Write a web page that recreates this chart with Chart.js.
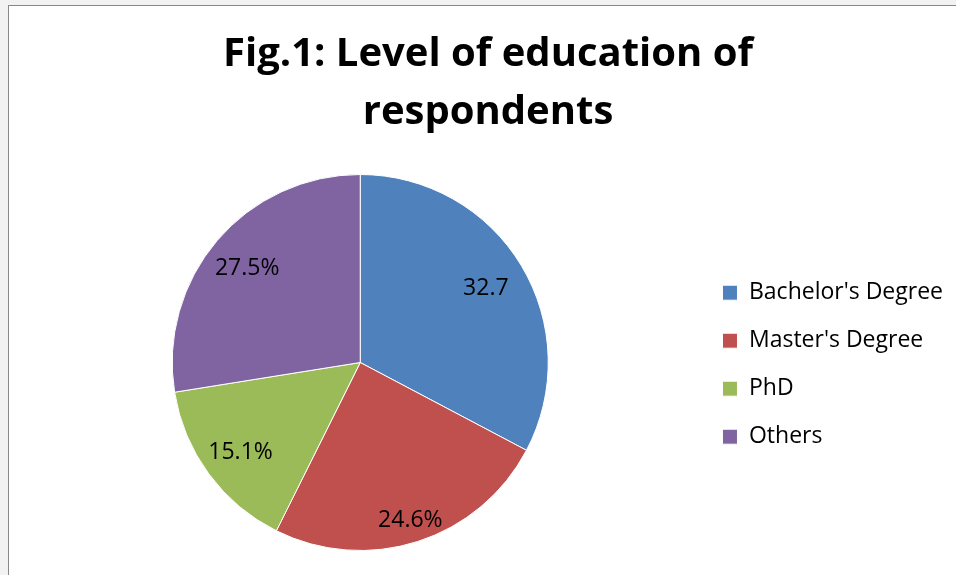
<!DOCTYPE html>
<html>
<head>
<meta charset="utf-8">
<script src="https://cdn.jsdelivr.net/npm/chart.js@4"></script>
<style>
  html, body { margin:0; padding:0; background:#f2f2f2; width:956px; height:575px; overflow:hidden; }
  #frame {
    position:absolute; left:8px; top:5px; width:948px; height:570px;
    background:#fff; border-left:1px solid #888; border-top:1px solid #888;
  }
  #wrap { position:absolute; left:0; top:0; width:947px; height:569px; }
</style>
</head>
<body>
<div id="frame"><div id="wrap"><canvas id="pieChart"></canvas></div></div>
<script>
/* ── data ───────────────────────────────────────── */
const CATEGORIES = ["Bachelor's Degree", "Master's Degree", 'PhD', 'Others'];
const VALUES     = [32.7, 24.6, 15.1, 27.5];
const LABELS     = ['32.7', '24.6%', '15.1%', '27.5%'];
const TITLE      = ['Fig.1: Level of education of', 'respondents'];

const COLORS = ['#4F81BD', '#C0504D', '#9BBB59', '#8064A2'];
const FONT   = '"Open Sans", Carlito, Calibri, sans-serif';
const LABEL_DIST = [0.78, 0.87, 0.79, 0.79];   // fraction of radius

/* ── inline data label plugin ───────────────────── */
const sliceLabels = {
  id: 'sliceLabels',
  afterDatasetsDraw(chart){
    const ctx = chart.ctx;
    const meta = chart.getDatasetMeta(0);
    ctx.save();
    ctx.font = '23px ' + FONT;
    ctx.fillStyle = '#000';
    ctx.textAlign = 'center';
    ctx.textBaseline = 'middle';
    meta.data.forEach((arc, i) => {
      const p = arc.getProps(['x','y','startAngle','endAngle','outerRadius'], true);
      const mid = (p.startAngle + p.endAngle) / 2;
      const d = p.outerRadius * LABEL_DIST[i];
      ctx.fillText(LABELS[i], p.x + Math.cos(mid) * d, p.y + Math.sin(mid) * d + 2);
    });
    ctx.restore();
  }
};

const ctx = document.getElementById('pieChart').getContext('2d');
new Chart(ctx, {
  type: 'pie',
  data: {
    labels: CATEGORIES,
    datasets: [{
      data: VALUES,
      backgroundColor: COLORS,
      borderColor: '#ffffff',
      borderWidth: 1,
    }]
  },
  options: {
    responsive: true, maintainAspectRatio: false,
    animation: false,
    layout: { padding: { left: 14, right: 3, top: 0, bottom: 24 } },
    plugins: {
      title: {
        display: true,
        text: TITLE,
        color: '#000',
        font: { family: FONT, size: 40, weight: 'bold', lineHeight: 1.45 },
        padding: { top: 20, bottom: 32 },
      },
      legend: {
        position: 'right',
        title: { display: true, text: ' ', font: { size: 12 }, padding: { top: 101, bottom: 57 } },
        labels: {
          color: '#000',
          font: { family: FONT, size: 23 },
          boxWidth: 15, boxHeight: 15,
          padding: 25,
        }
      },
      tooltip: { enabled: false },
    }
  },
  plugins: [sliceLabels]
});
</script>
</body>
</html>
